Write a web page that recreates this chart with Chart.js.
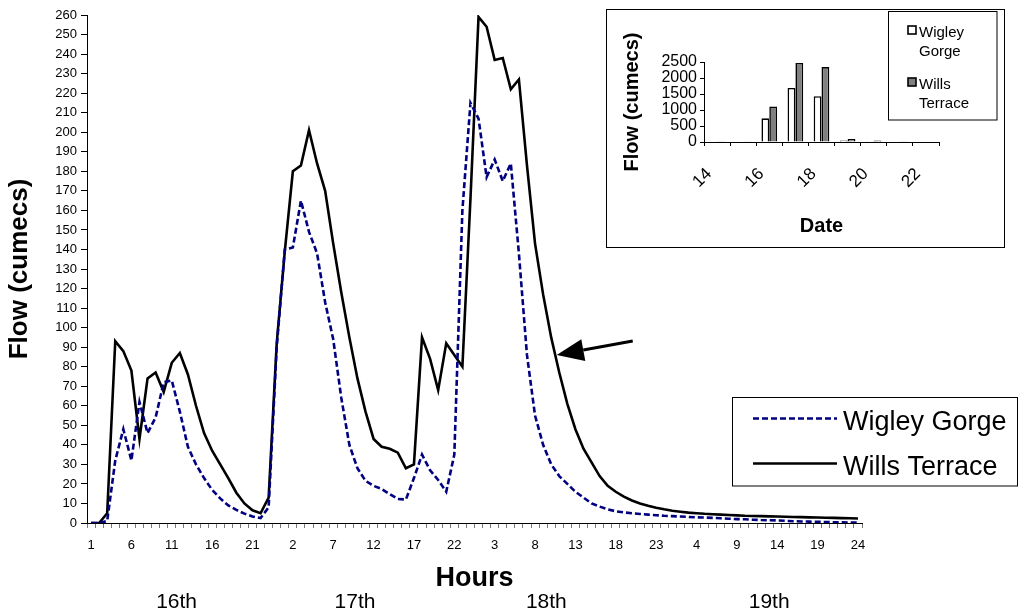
<!DOCTYPE html>
<html>
<head>
<meta charset="utf-8">
<title>Flow at Wigley Gorge and Wills Terrace</title>
<script src="https://cdn.jsdelivr.net/npm/chart.js@4.4.1/dist/chart.umd.min.js"></script>
<style>
  html, body { margin: 0; padding: 0; background: #fff; }
  #wrap { position: relative; width: 1018px; height: 612px; overflow: hidden; background: #fff; }
  #main { position: absolute; left: 0; top: 0; }
  #insetBox { position: absolute; left: 606px; top: 9px; width: 397px; height: 237px;
              border: 1px solid #000; background: #fff; }
  #inset { display: block; }
</style>
</head>
<body>
<div id="wrap">
  <canvas id="main" width="1018" height="612"></canvas>
  <div id="insetBox"><canvas id="inset" width="397" height="237"></canvas></div>
</div>
<script>
// ---- Hourly flow, 16th to 19th (cumecs) ----
const hourLabels = ['1','2','3','4','5','6','7','8','9','10','11','12',
                    '13','14','15','16','17','18','19','20','21','22','23','24'];
const dayLabels = ['16th', '17th', '18th', '19th'];

const wigleyGorge = [
  0, 0, 1, 32, 48, 32, 62, 46, 54, 72, 73, 57, 39, 30, 23, 17, 12.6, 9, 6.7, 4.8, 3.3, 2.5, 8, 90,
  140, 141, 165, 149, 138, 113, 94, 64, 40, 28, 21.6, 19, 17.4, 14.8, 12.3, 12, 23, 35, 27, 22, 16, 35, 160, 215,
  207, 177, 186, 175, 184, 138, 86, 55, 40, 30, 24, 20, 16, 13, 10, 8.4, 7, 6, 5.4, 5, 4.6, 4.3, 4, 3.7,
  3.5, 3.3, 3.1, 2.9, 2.8, 2.6, 2.4, 2.2, 2.0, 1.9, 1.7, 1.5, 1.4, 1.3, 1.1, 0.9, 0.8, 0.7, 0.6, 0.5, 0.4, 0.3, 0.2, 0.2
];
const willsTerrace = [
  0, 0, 5, 93, 88, 78, 43, 74, 77, 67, 82, 87, 76, 60, 46, 37, 30, 23, 15.5, 10, 6.5, 5, 13, 92,
  139, 180, 183, 201, 184, 170, 143, 118, 95, 74, 57, 43, 39, 38, 36, 28, 30, 95, 84, 68, 92, 86, 80, 166,
  259, 254, 237, 238, 222, 227, 183, 143, 117, 95, 77, 61, 48, 38, 31, 24, 19, 16, 13.5, 11.5, 10, 8.8, 7.8, 7,
  6.3, 5.8, 5.3, 5, 4.7, 4.5, 4.3, 4.1, 3.9, 3.7, 3.6, 3.5, 3.4, 3.3, 3.2, 3.1, 3, 2.9, 2.8, 2.7, 2.6, 2.5, 2.4, 2.3
];

// ---- Daily totals (inset) ----
const insetDates = ['14', '15', '16', '17', '18', '19', '20', '21', '22'];
const insetWigley = [null, 15, 740, 1690, 1430, 45, 25, null, null];
const insetWills  = [20, 25, 1110, 2470, 2340, 95, 45, 20, 15];

// one category per hour across the four days
const hourCategories = dayLabels.flatMap(() => hourLabels);

const FONT = '"Liberation Sans", Arial, Helvetica, sans-serif';

// Day names under the hour axis, legend box and the arrow pointing at the Wills Terrace recession
const mainDecorations = {
  id: 'mainDecorations',
  afterDraw(chart) {
    const { ctx, scales: { x, y } } = chart;
    ctx.save();

    // day names
    const dayAnchors = [10.6, 32.7, 56.4, 84];
    ctx.fillStyle = '#000';
    ctx.font = '21px ' + FONT;
    ctx.textAlign = 'center';
    ctx.textBaseline = 'alphabetic';
    dayLabels.forEach((d, i) => ctx.fillText(d, x.getPixelForValue(dayAnchors[i]), 608));

    // arrow to the Wills Terrace line
    const at = 57.5;
    const lo = Math.floor(at), f = at - lo;
    const v = willsTerrace[lo] * (1 - f) + willsTerrace[lo + 1] * f;
    const tipX = x.getPixelForValue(at) + 1.5, tipY = y.getPixelForValue(v);
    const tailX = tipX + 76, tailY = tipY - 14;
    const ang = Math.atan2(tailY - tipY, tailX - tipX);
    const headLen = 27, headHalf = 11;
    const bx = tipX + Math.cos(ang) * headLen, by = tipY + Math.sin(ang) * headLen;
    ctx.strokeStyle = '#000';
    ctx.lineWidth = 3;
    ctx.beginPath();
    ctx.moveTo(bx, by);
    ctx.lineTo(tailX, tailY);
    ctx.stroke();
    ctx.beginPath();
    ctx.moveTo(tipX, tipY);
    ctx.lineTo(bx - Math.sin(ang) * headHalf, by + Math.cos(ang) * headHalf);
    ctx.lineTo(bx + Math.sin(ang) * headHalf, by - Math.cos(ang) * headHalf);
    ctx.closePath();
    ctx.fillStyle = '#000';
    ctx.fill();

    // legend
    ctx.lineWidth = 1;
    ctx.strokeStyle = '#000';
    ctx.fillStyle = '#fff';
    ctx.fillRect(733, 397, 285, 89);
    ctx.strokeRect(732.5, 397.5, 285, 88.5);
    const rows = [418.5, 463.5];
    ctx.font = '27px ' + FONT;
    ctx.textAlign = 'left';
    chart.data.datasets.forEach((ds, i) => {
      ctx.save();
      ctx.strokeStyle = ds.borderColor;
      ctx.lineWidth = ds.borderWidth;
      ctx.setLineDash(ds.borderDash || []);
      ctx.beginPath();
      ctx.moveTo(753, rows[i]);
      ctx.lineTo(837, rows[i]);
      ctx.stroke();
      ctx.restore();
      ctx.fillStyle = '#000';
      ctx.fillText(ds.label, 843, rows[i] + 11);
    });
    ctx.restore();
  }
};

new Chart(document.getElementById('main'), {
  type: 'line',
  data: {
    labels: hourCategories,
    datasets: [
      { label: 'Wigley Gorge', data: wigleyGorge, borderColor: '#000080', borderWidth: 2.6,
        borderDash: [6, 3], pointRadius: 0, tension: 0, fill: false },
      { label: 'Wills Terrace', data: willsTerrace, borderColor: '#000000', borderWidth: 2.6,
        pointRadius: 0, tension: 0, fill: false }
    ]
  },
  options: {
    responsive: false,
    animation: false,
    devicePixelRatio: 1,
    layout: { padding: { left: 0, top: 15, right: 156, bottom: 0 } },
    plugins: { legend: { display: false }, tooltip: { enabled: false } },
    scales: {
      x: {
        offset: true,
        grid: { offset: true, drawOnChartArea: false, drawTicks: true, tickLength: 5, color: '#777' },
        border: { color: '#000', width: 1 },
        ticks: {
          autoSkip: false, minRotation: 0, maxRotation: 0, padding: 10, color: '#000',
          font: { family: FONT, size: 13 },
          callback: (v, i) => (i % 5 === 0 ? hourCategories[i] : '')
        },
        title: { display: true, text: 'Hours', color: '#000',
                 font: { family: FONT, size: 27, weight: 'bold' }, padding: { top: 0, bottom: 17 } },
        afterFit: s => { s.height = 89; }
      },
      y: {
        min: 0, max: 260,
        ticks: { stepSize: 10, autoSkip: false, padding: 4, color: '#000', font: { family: FONT, size: 13 } },
        grid: { drawOnChartArea: false, drawTicks: true, tickLength: 6, color: '#000' },
        border: { color: '#000', width: 1 },
        title: { display: true, text: 'Flow (cumecs)', color: '#000',
                 font: { family: FONT, size: 26, weight: 'bold' }, padding: { top: 4, bottom: 0 } },
        afterFit: s => { s.width = 87; }
      }
    }
  },
  plugins: [mainDecorations]
});

// Legend of the daily-total inset
const insetLegend = {
  id: 'insetLegend',
  afterDraw(chart) {
    const { ctx } = chart;
    ctx.save();
    ctx.fillStyle = '#fff';
    ctx.fillRect(281, 1, 109, 109);
    ctx.strokeStyle = '#000';
    ctx.lineWidth = 1;
    ctx.strokeRect(281.5, 1.5, 108.5, 108.5);
    ctx.font = '15px ' + FONT;
    ctx.textAlign = 'left';
    ctx.textBaseline = 'alphabetic';
    const tops = [16, 68];
    chart.data.datasets.forEach((ds, i) => {
      ctx.fillStyle = ds.backgroundColor;
      ctx.fillRect(301, tops[i], 8, 8);
      ctx.lineWidth = 1.6;
      ctx.strokeStyle = '#000';
      ctx.strokeRect(301, tops[i], 8, 8);
      ctx.fillStyle = '#000';
      const words = ds.label.split(' ');
      words.forEach((w, k) => ctx.fillText(w, 312, tops[i] + 11 + k * 19));
    });
    ctx.restore();
  }
};

new Chart(document.getElementById('inset'), {
  type: 'bar',
  data: {
    labels: insetDates,
    datasets: [
      { label: 'Wigley Gorge', data: insetWigley, backgroundColor: '#ffffff', borderColor: '#000',
        borderWidth: 1.6, categoryPercentage: 0.6, barPercentage: 1 },
      { label: 'Wills Terrace', data: insetWills, backgroundColor: '#808080', borderColor: '#000',
        borderWidth: 1.6, categoryPercentage: 0.6, barPercentage: 1 }
    ]
  },
  options: {
    responsive: false,
    animation: false,
    devicePixelRatio: 1,
    layout: { padding: { left: 0, top: 52, right: 65, bottom: 0 } },
    plugins: { legend: { display: false }, tooltip: { enabled: false } },
    scales: {
      x: {
        grid: { offset: true, drawOnChartArea: false, drawTicks: true, tickLength: 4, color: '#000' },
        border: { color: '#000', width: 1 },
        ticks: {
          autoSkip: false, minRotation: 45, maxRotation: 45, padding: 18, labelOffset: -8, color: '#000',
          font: { family: FONT, size: 17 },
          callback: (v, i) => (i % 2 === 0 ? insetDates[i] : '')
        },
        title: { display: true, text: 'Date', color: '#000',
                 font: { family: FONT, size: 20, weight: 'bold' }, padding: { top: 0, bottom: 9 } },
        afterFit: s => { s.height = 105; }
      },
      y: {
        min: 0, max: 2500,
        ticks: { stepSize: 500, autoSkip: false, padding: 3, color: '#000', font: { family: FONT, size: 16 },
                 callback: v => String(v) },
        grid: { drawOnChartArea: false, drawTicks: true, tickLength: 4, color: '#000' },
        border: { color: '#000', width: 1 },
        title: { display: true, text: 'Flow (cumecs)', color: '#000',
                 font: { family: FONT, size: 20, weight: 'bold' }, padding: { top: 13, bottom: 0 } },
        afterFit: s => { s.width = 97; }
      }
    }
  },
  plugins: [insetLegend]
});
</script>
</body>
</html>
